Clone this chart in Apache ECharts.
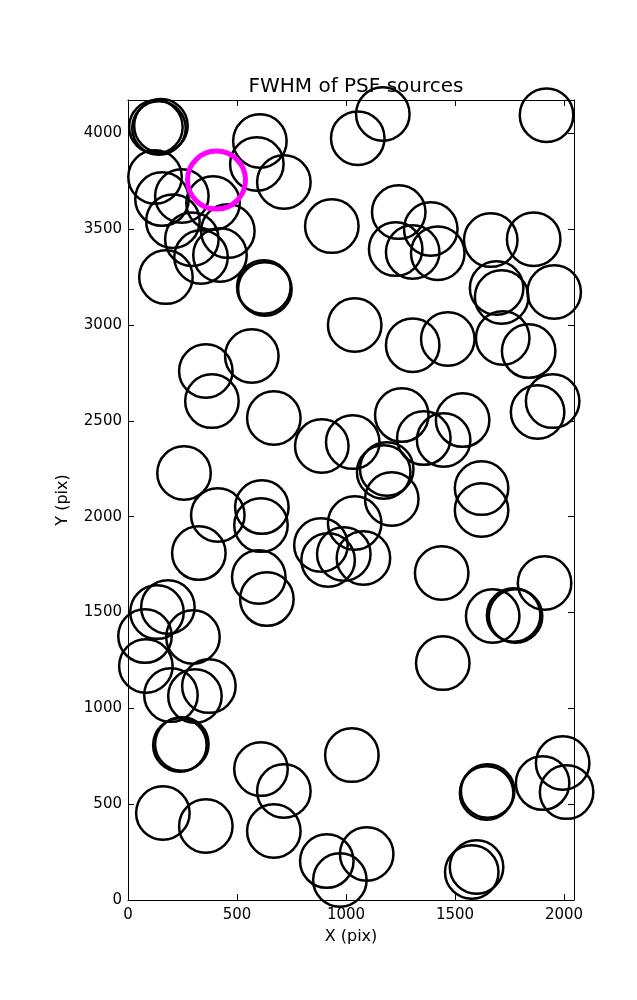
<!DOCTYPE html>
<html>
<head>
<meta charset="utf-8">
<script src="https://cdn.jsdelivr.net/npm/echarts@6/dist/echarts.min.js"></script>
<style>
html,body{margin:0;padding:0;background:#fff;}
#chart{width:637px;height:1000px;}
</style>
</head>
<body>
<div id="chart"></div>
<script>
// Source positions (pix)
const srcX = [128,142,151,605,591,715,935,1169,1054,1920,1242,1389,1228,1306,1421,1664,1861,1691,1714,1955,
  124,156,247,390,206,293,458,335,422,174,623,628,
  1040,1306,1467,1719,1838,1948,1879,357,568,385,669,889,1031,1256,1357,1448,1535,1173,1187,1210,1622,1622,1040,
  257,412,614,610,325,600,637,885,918,990,1080,
  183,133,78,298,82,197,307,371,238,247,
  1439,1444,1673,1769,1778,1911,
  610,715,669,160,357,1027,912,972,1095,1645,1650,1599,1577,1902,1994,2012];
const srcY = [4033,4028,4040,3960,3840,3746,3516,4101,3975,4095,3589,3501,3396,3381,3375,3443,3448,3193,3146,3172,
  3772,3657,3673,3636,3542,3448,3490,3355,3365,3250,3198,3188,
  3000,2895,2927,2932,2864,2603,2546,2760,2838,2603,2515,2369,2389,2530,2410,2400,2504,2233,2249,2092,2149,2035,1967,
  2228,2009,2050,1956,1810,1685,1570,1852,1774,1805,1784,
  1529,1502,1377,1372,1221,1069,1064,1116,809,814,
  1706,1236,1482,1487,1482,1654,
  683,569,360,454,386,756,203,104,240,558,569,172,146,610,715,563];
// Highlighted source
const hiX = [406];
const hiY = [3756];
// Axis ticks
const xTicks = [0,500,1000,1500,2000];
const yTicks = [0,500,1000,1500,2000,2500,3000,3500,4000];
const xMax = 2046, yMax = 4174;

const pts = srcX.map((x,i)=>[x, srcY[i]]);
const hi = hiX.map((x,i)=>[x, hiY[i]]);

const font = 'DejaVu Sans';
const fmt = v => (v % 500 === 0 ? String(v) : '');
const tick = () => ({show:true, inside:true, length:6, lineStyle:{color:'#000', width:1}});

const chart = echarts.init(document.getElementById('chart'), null, {renderer:'canvas'});
chart.setOption({
  animation:false,
  backgroundColor:'#fff',
  title:{text:'FWHM of PSF sources', left:351, top:72, textAlign:'center',
    textStyle:{fontFamily:font, fontSize:20, fontWeight:'normal', color:'#000'}},
  grid:{left:128, right:63, top:100, bottom:100, show:false},
  xAxis:[{
    type:'value', min:0, max:xMax, interval:500, position:'bottom', gridIndex:0,
    name:'X (pix)', nameLocation:'middle', nameGap:29,
    nameTextStyle:{fontFamily:font, fontSize:16, color:'#000'},
    axisLine:{show:true, onZero:false, lineStyle:{color:'#000', width:1}},
    axisTick:tick(), splitLine:{show:false},
    axisLabel:{fontFamily:font, fontSize:15, color:'#000', margin:8, formatter:fmt}
  },{
    type:'value', min:0, max:xMax, interval:500, position:'top', gridIndex:0, show:true,
    axisLine:{show:true, onZero:false, lineStyle:{color:'#000', width:1}},
    axisTick:tick(), axisLabel:{show:false}, splitLine:{show:false}
  }],
  yAxis:[{
    type:'value', min:0, max:yMax, interval:500, position:'left', gridIndex:0,
    name:'Y (pix)', nameLocation:'middle', nameGap:57, nameRotate:90,
    nameTextStyle:{fontFamily:font, fontSize:16, color:'#000'},
    axisLine:{show:true, onZero:false, lineStyle:{color:'#000', width:1}},
    axisTick:tick(), splitLine:{show:false},
    axisLabel:{fontFamily:font, fontSize:15, color:'#000', margin:6, formatter:fmt}
  },{
    type:'value', min:0, max:yMax, interval:500, position:'right', gridIndex:0, show:true,
    axisLine:{show:true, onZero:false, lineStyle:{color:'#000', width:1}},
    axisTick:tick(), axisLabel:{show:false}, splitLine:{show:false}
  }],
  series:[{
    type:'scatter', data:pts, symbol:'circle', symbolSize:53.5, clip:true,
    itemStyle:{color:'rgba(0,0,0,0)', borderColor:'#000', borderWidth:2.5, opacity:1},
    emphasis:{disabled:true}, silent:true
  },{
    type:'scatter', data:hi, symbol:'circle', symbolSize:58, clip:true,
    itemStyle:{color:'rgba(0,0,0,0)', borderColor:'#ff00ff', borderWidth:5, opacity:1},
    emphasis:{disabled:true}, silent:true, z:3
  },{
    // empty series bound to the secondary (top/right) axes so they render
    type:'scatter', xAxisIndex:1, yAxisIndex:1, data:[], silent:true
  }]
});
</script>
</body>
</html>
